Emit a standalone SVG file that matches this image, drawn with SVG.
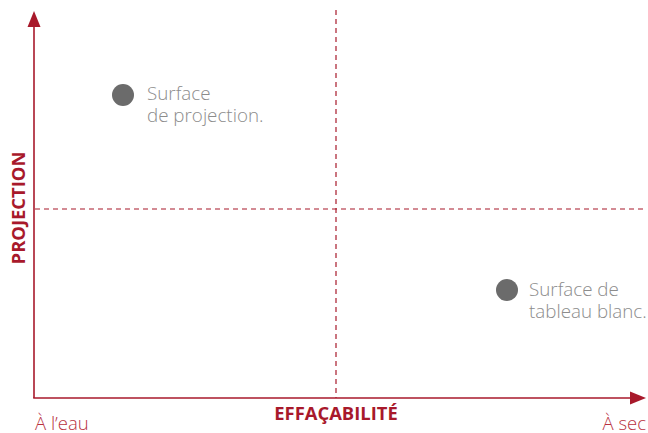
<svg xmlns="http://www.w3.org/2000/svg" width="648" height="433" viewBox="0 0 648 433">
<style>
.axis{stroke:#a8192b;stroke-width:1.6;fill:none}
.dash{stroke:#a8192b;stroke-width:1.2;stroke-dasharray:5,4;fill:none}
.lbl{font-family:"Open Sans",sans-serif;font-weight:300;font-size:18.8px;fill:#8c8c8c}
.end{font-family:"Open Sans",sans-serif;font-weight:300;font-size:18.5px;fill:#b8323f}
.title{font-family:"Open Sans",sans-serif;font-weight:700;font-size:18.4px;fill:#a8192b}
.dot{fill:#6b6b6b}
</style>
<rect width="648" height="433" fill="#ffffff"/>
<g id="connectors">
<line class="dash" x1="336" y1="10" x2="336" y2="398"/>
<line class="dash" x1="35" y1="209" x2="646" y2="209"/>
<line class="axis" x1="34" y1="398" x2="34" y2="25"/>
<line class="axis" x1="33.2" y1="398" x2="632" y2="398"/>
<polygon points="34,11 40.5,27 27.5,27" fill="#a8192b"/>
<polygon points="646,398 630,391.5 630,404.5" fill="#a8192b"/>
</g>
<g id="node-projection">
<circle class="dot" cx="123" cy="95" r="11"/>
<text class="lbl" x="147" y="100">Surface</text>
<text class="lbl" x="147" y="122">de projection.</text>
</g>
<g id="node-tableau">
<circle class="dot" cx="507" cy="290" r="11"/>
<text class="lbl" x="529" y="296">Surface de</text>
<text class="lbl" x="529" y="318">tableau blanc.</text>
</g>
<g id="labels">
<text class="end" x="35" y="430">À l’eau</text>
<text class="end" x="646" y="430" text-anchor="end">À sec</text>
<text class="title" x="336" y="420" text-anchor="middle">EFFAÇABILITÉ</text>
<text class="title" transform="translate(25,208) rotate(-90)" text-anchor="middle">PROJECTION</text>
</g>
</svg>
